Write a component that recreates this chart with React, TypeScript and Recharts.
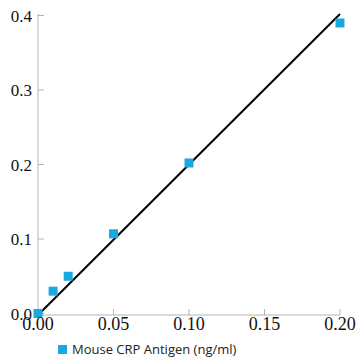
import { ScatterChart, Scatter, XAxis, YAxis, Legend } from 'recharts';

// measured points
const concentration = [0, 0.01, 0.02, 0.05, 0.1, 0.2];
const absorbance = [0, 0.03, 0.05, 0.107, 0.202, 0.39];

// fitted line, read at both ends
const fitX = [0, 0.2];
const fitY = [-0.002, 0.402];

const xTicks = [0, 0.05, 0.1, 0.15, 0.2];
const yTicks = [0, 0.1, 0.2, 0.3, 0.4];

const points = concentration.map((x, i) => ({ x, y: absorbance[i] }));
const fit = fitX.map((x, i) => ({ x, y: fitY[i] }));

const BLUE = '#1aa8e0';
const AXIS = '#b3b3b3';

const Square = (props: any) => (
  <rect x={props.cx - 4.5} y={props.cy - 4.5} width={9} height={9} fill={BLUE} />
);

const Empty = () => <g />;

const LegendBox = () => (
  <div style={{ display: 'flex', alignItems: 'center', marginLeft: 58, fontFamily: '"Open Sans", sans-serif', fontSize: 13, color: '#222' }}>
    <span style={{ width: 9, height: 9, background: BLUE, display: 'inline-block', marginRight: 5 }} />
    Mouse CRP Antigen (ng/ml)
  </div>
);

export default function App() {
  return (
    <div style={{ position: 'absolute', left: 0, top: 0 }}>
      <ScatterChart width={360} height={360} margin={{ top: 14, right: 20, bottom: 0, left: 0 }}>
        <XAxis
          type="number"
          dataKey="x"
          domain={[0, 0.2]}
          ticks={xTicks}
          tickFormatter={(v: number) => v.toFixed(2)}
          height={25}
          stroke={AXIS}
          tickSize={-6}
          tickMargin={8}
          tick={{ fill: '#111', fontSize: 18, fontFamily: '"Liberation Serif", serif' }}
        />
        <YAxis
          type="number"
          dataKey="y"
          domain={[0, 0.4]}
          ticks={yTicks}
          tickFormatter={(v: number) => v.toFixed(1)}
          width={38}
          stroke={AXIS}
          tickSize={-6}
          tickMargin={12}
          tick={{ fill: '#111', fontSize: 17, fontFamily: '"Liberation Serif", serif' }}
        />
        <Legend verticalAlign="bottom" height={20} content={<LegendBox />} />
        <Scatter
          data={fit}
          line={{ stroke: '#000', strokeWidth: 2 }}
          shape={<Empty />}
          isAnimationActive={false}
          legendType="none"
        />
        <Scatter data={points} shape={<Square />} isAnimationActive={false} />
      </ScatterChart>
    </div>
  );
}
